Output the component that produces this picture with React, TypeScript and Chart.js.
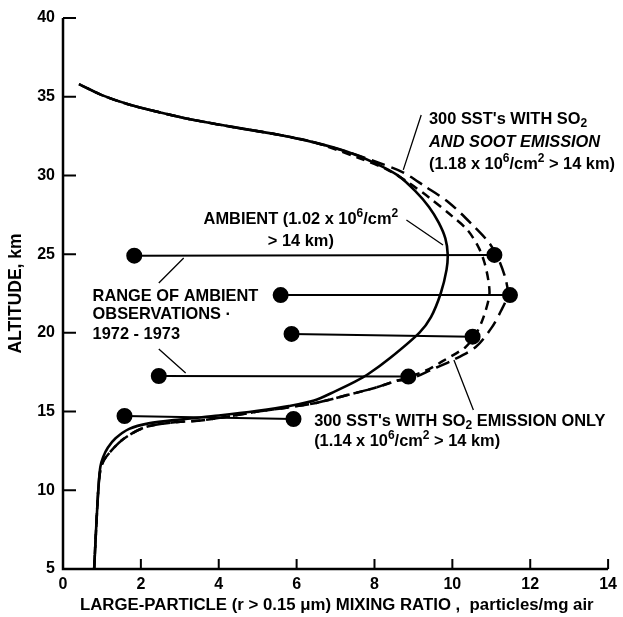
import { useEffect, useRef } from "react";
import { Chart, registerables } from "chart.js";

Chart.register(...registerables);

// ---------------- data ----------------
// Ambient profile (solid)
const ambientX = [0.8, 0.86, 0.92, 0.96, 1.03, 1.15, 1.35, 1.7, 2.2, 3.0, 4.0, 5.0, 5.8, 6.45, 7.0, 7.5, 7.85, 8.4, 9.15, 9.45, 9.7, 9.85, 9.88, 9.82, 9.65, 9.4, 9.05, 8.6, 8.0, 7.3, 6.45, 5.5, 4.3, 3.2, 2.5, 1.7, 1.0, 0.41];
const ambientY = [5.0, 8.0, 10.5, 11.5, 12.1, 12.7, 13.3, 13.9, 14.25, 14.5, 14.75, 15.05, 15.35, 15.7, 16.3, 16.9, 17.4, 18.4, 20.0, 21.0, 22.5, 24.0, 25.0, 26.0, 27.0, 28.0, 29.0, 30.0, 30.8, 31.5, 32.1, 32.6, 33.1, 33.6, 34.0, 34.5, 35.1, 35.8];

// 300 SST's with SO2 emission only (short dashes)
const so2OnlyX = [0.8, 0.86, 0.92, 0.98, 1.1, 1.52, 2.1, 2.8, 3.6, 4.4, 5.0, 5.6, 6.5, 7.3, 8.0, 8.56, 8.9, 9.4, 9.75, 10.1, 10.34, 10.6, 10.8, 10.95, 10.92, 10.82, 10.68, 10.4, 10.0, 9.4, 8.9, 8.3, 7.6, 6.45, 5.5, 4.3, 3.2, 2.5, 1.7, 1.0, 0.41];
const so2OnlyY = [5.0, 8.0, 10.5, 11.5, 12.1, 13.2, 14.0, 14.3, 14.45, 14.75, 15.0, 15.2, 15.55, 16.05, 16.5, 16.95, 17.2, 17.7, 18.2, 18.7, 19.1, 19.9, 21.0, 22.4, 23.4, 24.5, 25.4, 26.5, 27.4, 28.6, 29.5, 30.4, 31.1, 32.1, 32.6, 33.1, 33.6, 34.0, 34.5, 35.1, 35.8];

// 300 SST's with SO2 and soot emission (long dashes)
const sootX = [0.8, 0.86, 0.92, 0.98, 1.1, 1.52, 2.1, 2.8, 3.6, 4.4, 5.0, 5.6, 6.5, 7.3, 8.0, 8.56, 8.9, 9.5, 10.0, 10.6, 11.0, 11.25, 11.42, 11.38, 11.2, 10.95, 10.5, 9.9, 9.3, 8.73, 8.0, 7.3, 6.45, 5.5, 4.3, 3.2, 2.5, 1.7, 1.0, 0.41];
const sootY = [5.0, 8.0, 10.5, 11.5, 12.1, 13.2, 14.0, 14.3, 14.45, 14.75, 15.0, 15.2, 15.55, 16.05, 16.5, 16.95, 17.05, 17.7, 18.25, 19.1, 20.3, 21.4, 22.4, 23.3, 24.6, 25.7, 26.9, 28.3, 29.3, 30.2, 30.9, 31.5, 32.1, 32.6, 33.1, 33.6, 34.0, 34.5, 35.1, 35.8];

// Range of ambient observations 1972-1973
const obsLeftX = [1.83, 5.59, 5.87, 2.46, 1.58];
const obsLeftAlt = [24.9, 22.4, 19.93, 17.26, 14.72];
const obsRightX = [11.08, 11.48, 10.52, 8.87, 5.92];
const obsRightAlt = [24.95, 22.4, 19.76, 17.22, 14.53];

const xTickValues = [0, 2, 4, 6, 8, 10, 12, 14];
const yTickValues = [5, 10, 15, 20, 25, 30, 35, 40];

const xTitle = "LARGE-PARTICLE (r > 0.15 \u03BCm) MIXING RATIO ,  particles/mg air";
const yTitle = "ALTITUDE, km";

type Seg = [string, string];
// text lines: [x, y (data coords of left/middle), segments]
const annotations: [number, number, Seg[]][] = [
  [3.61, 27.2, [["AMBIENT (1.02 x 10", ""], ["6", "sup"], ["/cm", ""], ["2", "sup"]]],
  [5.26, 25.78, [["> 14 km)", ""]]],
  [0.76, 22.34, [["RANGE OF AMBIENT", ""]]],
  [0.76, 21.14, [["OBSERVATIONS \u00B7", ""]]],
  [0.76, 19.87, [["1972 - 1973", ""]]],
  [9.4, 33.53, [["300 SST's WITH SO", ""], ["2", "sub"]]],
  [9.4, 32.07, [["AND SOOT EMISSION", "i"]]],
  [9.4, 30.67, [["(1.18 x 10", ""], ["6", "sup"], ["/cm", ""], ["2", "sup"], [" > 14 km)", ""]]],
  [6.45, 14.34, [["300 SST's WITH SO", ""], ["2", "sub"], [" EMISSION ONLY", ""]]],
  [6.45, 13.07, [["(1.14 x 10", ""], ["6", "sup"], ["/cm", ""], ["2", "sup"], [" > 14 km)", ""]]],
];

// leader lines [x1, y1, x2, y2] in data coords
const leaders: [number, number, number, number][] = [
  [8.82, 27.17, 9.76, 25.58],
  [9.2, 33.84, 8.74, 30.35],
  [3.1, 24.76, 2.46, 23.17],
  [2.46, 18.98, 3.15, 17.45],
  [10.04, 18.28, 10.54, 15.1],
];

const FAMILY = '"Liberation Sans", Arial, Helvetica, sans-serif';

function drawRich(ctx: CanvasRenderingContext2D, segs: Seg[], x: number, y: number) {
  let cx = x;
  for (const [t, kind] of segs) {
    let dy = 0;
    if (kind === "sup") {
      ctx.font = `bold 12px ${FAMILY}`;
      dy = -6;
    } else if (kind === "sub") {
      ctx.font = `bold 12px ${FAMILY}`;
      dy = 4;
    } else if (kind === "i") {
      ctx.font = `italic bold 16.4px ${FAMILY}`;
    } else {
      ctx.font = `bold 16.4px ${FAMILY}`;
    }
    ctx.fillText(t, cx, y + dy);
    cx += ctx.measureText(t).width;
  }
}

const overlay = {
  id: "overlay",
  afterDatasetsDraw(chart: any) {
    const ctx: CanvasRenderingContext2D = chart.ctx;
    const xs = chart.scales.x;
    const ys = chart.scales.y;
    const area = chart.chartArea;
    ctx.save();
    ctx.strokeStyle = "#000";
    ctx.fillStyle = "#000";
    // axes
    ctx.lineWidth = 2.5;
    ctx.beginPath();
    ctx.moveTo(area.left, area.top);
    ctx.lineTo(area.left, area.bottom);
    ctx.lineTo(area.right, area.bottom);
    ctx.stroke();
    ctx.lineWidth = 2;
    ctx.beginPath();
    for (const v of yTickValues) {
      const py = ys.getPixelForValue(v);
      ctx.moveTo(area.left, py);
      ctx.lineTo(area.left + 13, py);
    }
    for (const v of xTickValues) {
      const px = xs.getPixelForValue(v);
      ctx.moveTo(px, area.bottom);
      ctx.lineTo(px, area.bottom - 10);
    }
    ctx.stroke();
    // leaders
    ctx.lineWidth = 1.3;
    ctx.beginPath();
    for (const [x1, y1, x2, y2] of leaders) {
      ctx.moveTo(xs.getPixelForValue(x1), ys.getPixelForValue(y1));
      ctx.lineTo(xs.getPixelForValue(x2), ys.getPixelForValue(y2));
    }
    ctx.stroke();
    // annotation text
    ctx.textBaseline = "middle";
    ctx.textAlign = "left";
    for (const [x, y, segs] of annotations) {
      drawRich(ctx, segs, xs.getPixelForValue(x), ys.getPixelForValue(y));
    }
    // axis titles
    ctx.font = `bold 16.8px ${FAMILY}`;
    ctx.textAlign = "left";
    ctx.fillText(xTitle, area.left + 17, chart.height - 12);
    ctx.save();
    ctx.font = `bold 17.5px ${FAMILY}`;
    ctx.translate(16, (area.top + area.bottom) / 2);
    ctx.rotate(-Math.PI / 2);
    ctx.textAlign = "center";
    ctx.fillText(yTitle, 0, 0);
    ctx.restore();
    ctx.restore();
  },
};

export default function App() {
  const ref = useRef<HTMLCanvasElement | null>(null);
  useEffect(() => {
    document.body.style.margin = "0";
    const canvas = ref.current!;
    const curve = (xsArr: number[], ysArr: number[], dash: number[], width: number) => ({
      data: xsArr.map((x, i) => ({ x, y: ysArr[i] })),
      showLine: true,
      borderColor: "#000",
      borderWidth: width,
      borderDash: dash,
      pointRadius: 0,
      tension: 0.3,
      fill: false,
    });
    const obsSets = obsLeftX.map((lx, i) => ({
      data: [
        { x: lx, y: obsLeftAlt[i] },
        { x: obsRightX[i], y: obsRightAlt[i] },
      ],
      showLine: true,
      borderColor: "#000",
      borderWidth: 2,
      pointRadius: 7,
      pointBackgroundColor: "#000",
      pointBorderColor: "#000",
      tension: 0,
    }));
    const chart = new Chart(canvas, {
      type: "scatter",
      data: {
        datasets: [
          curve(ambientX, ambientY, [], 2.6),
          curve(so2OnlyX, so2OnlyY, [9, 6], 2.5),
          curve(sootX, sootY, [14, 7], 2.5),
          ...obsSets,
        ] as any,
      },
      options: {
        animation: false,
        responsive: false,
        layout: { padding: { top: 18, right: 9, left: 0, bottom: 0 } },
        plugins: { legend: { display: false }, tooltip: { enabled: false } },
        scales: {
          x: {
            type: "linear",
            min: 0,
            max: 14,
            afterBuildTicks: (s: any) => {
              s.ticks = xTickValues.map((v) => ({ value: v }));
            },
            afterFit: (s: any) => {
              s.height = 48;
            },
            grid: { display: false, drawTicks: false },
            border: { display: false },
            ticks: {
              color: "#000",
              padding: 6,
              maxRotation: 0,
              font: { family: FAMILY, size: 16, weight: "bold" },
            },
          },
          y: {
            type: "linear",
            min: 5,
            max: 40,
            afterBuildTicks: (s: any) => {
              s.ticks = yTickValues.map((v) => ({ value: v }));
            },
            afterFit: (s: any) => {
              s.width = 63;
            },
            grid: { display: false, drawTicks: false },
            border: { display: false },
            ticks: {
              color: "#000",
              padding: 8,
              font: { family: FAMILY, size: 16, weight: "bold" },
            },
          },
        },
      } as any,
      plugins: [overlay],
    });
    return () => chart.destroy();
  }, []);
  return <canvas ref={ref} width={623} height={617} style={{ display: "block" }} />;
}
